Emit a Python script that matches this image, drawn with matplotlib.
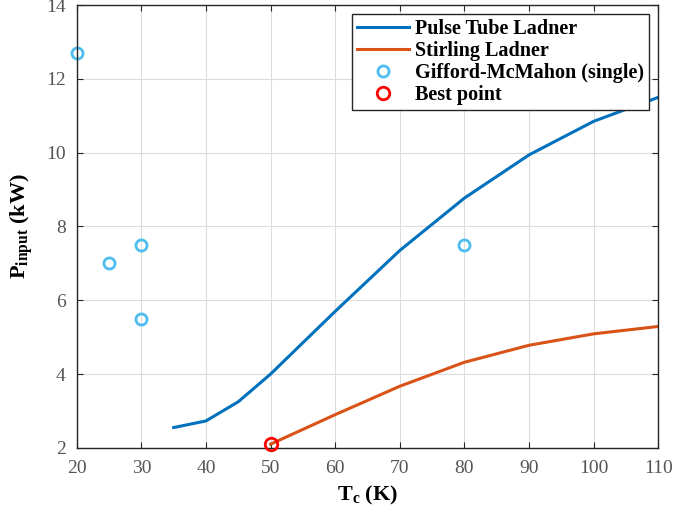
import matplotlib
matplotlib.use("Agg")
import matplotlib.pyplot as plt

plt.rcParams['font.family'] = ['Liberation Serif', 'DejaVu Serif']
plt.rcParams['mathtext.fontset'] = 'custom'
plt.rcParams['mathtext.rm'] = 'Liberation Serif'
plt.rcParams['mathtext.bf'] = 'Liberation Serif:bold'

# data
pt_T = [35, 40, 45, 50, 55, 60, 70, 80, 90, 100, 110]
pt_P = [2.55, 2.73, 3.25, 4.0, 4.85, 5.7, 7.35, 8.77, 9.94, 10.85, 11.5]

st_T = [50, 60, 70, 80, 90, 100, 110]
st_P = [2.1, 2.9, 3.67, 4.32, 4.78, 5.09, 5.29]

gm_T = [20, 25, 30, 30, 80]
gm_P = [12.7, 7.0, 7.5, 5.5, 7.5]

best_T = [50]
best_P = [2.1]

fig = plt.figure(figsize=(6.98, 5.13), dpi=100)
ax = fig.add_axes([0.110, 0.127, 0.833, 0.863])

ax.plot(pt_T, pt_P, color='#0072BD', lw=2.2, label='Pulse Tube Ladner')
ax.plot(st_T, st_P, color='#D95319', lw=2.2, label='Stirling Ladner')
ax.plot(gm_T, gm_P, 'o', mfc='none', mec='#4DBEEE', ms=8, mew=2,
        label='Gifford-McMahon (single)', clip_on=False)
ax.plot(best_T, best_P, 'o', mfc='none', mec='red', ms=9, mew=2,
        label='Best point', clip_on=False, zorder=5)

ax.set_xlim(20, 110)
ax.set_ylim(2, 14)
ax.set_xticks(range(20, 111, 10))
ax.set_yticks(range(2, 15, 2))
ax.grid(True, color='#dcdcdc', lw=0.8)
ax.set_axisbelow(True)
ax.tick_params(direction='in', top=True, right=True, labelsize=14,
               colors='#262626', labelcolor='#555555', length=4)
ax.tick_params(axis='x', pad=9)
ax.tick_params(axis='y', pad=8)
for s in ax.spines.values():
    s.set_color('#262626')
    s.set_linewidth(1.0)

ax.set_xlabel(r'$\mathbf{T_c}$ (K)', fontsize=16, fontweight='bold', labelpad=5)
ax.set_ylabel(r'$\mathbf{P_{input}}$ (kW)', fontsize=16, fontweight='bold', labelpad=8)

leg = ax.legend(loc='upper right', bbox_to_anchor=(0.985, 0.98),
                prop={'weight': 'bold', 'size': 14.5}, frameon=True,
                fancybox=False, edgecolor='#262626', framealpha=1,
                handlelength=2.6, handletextpad=0.3, borderpad=0.25,
                labelspacing=0.1, borderaxespad=0)
leg.get_frame().set_linewidth(1.0)

fig.savefig('out.png', dpi=100)
